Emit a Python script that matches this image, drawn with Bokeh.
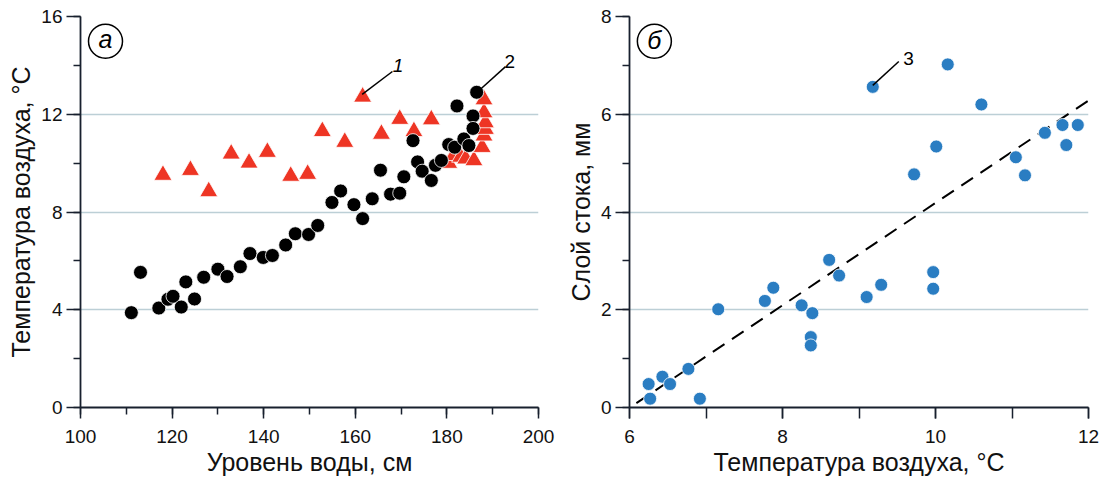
from bokeh.plotting import figure
from bokeh.layouts import row
from bokeh.models import SingleIntervalTicker, Range1d, Label
from bokeh.embed import file_html
from bokeh.resources import INLINE

# ---- data: panel a ----
lvl_black = [111.1, 113.1, 117.1, 119.1, 120.2, 122.0, 123.0, 124.9, 126.9, 130.0,
             132.0, 134.9, 137.0, 139.9, 141.9, 144.8, 146.9, 149.8, 151.8, 154.9,
             156.8, 159.7, 161.6, 163.7, 165.5, 167.7, 169.7, 170.6, 172.6, 173.6,
             174.6, 176.6, 177.5, 178.8, 180.4, 181.7, 182.2, 183.7, 184.8, 185.7,
             185.7, 186.5]
temp_black = [3.88, 5.53, 4.07, 4.43, 4.55, 4.11, 5.14, 4.44, 5.33, 5.66,
              5.36, 5.76, 6.30, 6.14, 6.22, 6.65, 7.11, 7.08, 7.45, 8.39,
              8.86, 8.30, 7.73, 8.54, 9.71, 8.73, 8.77, 9.44, 10.92, 10.05,
              9.67, 9.29, 9.91, 10.11, 10.76, 10.65, 12.34, 10.99, 10.72, 11.93,
              11.42, 12.90]
lvl_red = [118.0, 124.0, 128.0, 132.9, 136.8, 140.8, 145.9, 149.6, 152.8, 157.7,
           161.6, 165.7, 169.7, 172.8, 176.6, 180.4, 181.5, 183.0, 184.1, 185.9,
           187.7, 188.1, 188.4, 188.4, 188.1, 188.1]
temp_red = [9.51, 9.71, 8.84, 10.38, 10.01, 10.45, 9.47, 9.55, 11.30, 10.86,
            12.71, 11.19, 11.80, 11.30, 11.78, 10.00, 10.32, 10.25, 10.18, 10.11,
            10.65, 11.12, 11.39, 11.66, 12.07, 12.60]

# ---- data: panel б ----
temp_air = [9.18, 10.16, 10.60, 11.43, 11.66, 11.86, 11.71, 10.01, 11.05, 11.17,
            9.72, 6.25, 6.27, 6.43, 6.53, 6.77, 6.92, 7.16, 7.77, 7.88,
            8.25, 8.39, 8.37, 8.37, 8.61, 8.74, 9.10, 9.29, 9.97, 9.97]
runoff = [6.56, 7.02, 6.20, 5.62, 5.78, 5.78, 5.37, 5.34, 5.12, 4.75,
          4.77, 0.48, 0.18, 0.63, 0.48, 0.79, 0.18, 2.01, 2.18, 2.45,
          2.09, 1.93, 1.44, 1.27, 3.02, 2.70, 2.26, 2.51, 2.77, 2.43]
trend_x = [6.09, 12.0]
trend_y = [0.09, 6.28]

FONT = "Liberation Sans"
AXIS_C = "#18202e"
GRID_C = "#bccfd6"
RED = "#ee3524"
BLUE = "#2a7dc2"


def style(p, xint, yint, xlabel, ylabel, x_minor_out):
    p.outline_line_color = None
    p.xaxis.ticker = SingleIntervalTicker(interval=xint, num_minor_ticks=2)
    p.yaxis.ticker = SingleIntervalTicker(interval=yint, num_minor_ticks=2)
    p.ygrid.ticker = SingleIntervalTicker(interval=yint)
    p.xgrid.visible = False
    p.ygrid.grid_line_color = GRID_C
    p.ygrid.grid_line_width = 1.5
    for ax in (p.xaxis[0], p.yaxis[0]):
        ax.axis_line_color = AXIS_C
        ax.axis_line_width = 1.8
        ax.major_tick_line_color = AXIS_C
        ax.minor_tick_line_color = AXIS_C
        ax.major_tick_line_width = 1.5
        ax.minor_tick_line_width = 1.5
        ax.major_tick_in = 0
        ax.minor_tick_in = 0
        ax.major_label_text_font = FONT
        ax.major_label_text_font_size = "19px"
        ax.major_label_text_color = "#111111"
        ax.axis_label_text_font = FONT
        ax.axis_label_text_font_size = "25px"
        ax.axis_label_text_font_style = "normal"
        ax.axis_label_text_color = "#111111"
    p.xaxis.major_tick_out = 11
    p.xaxis.minor_tick_out = x_minor_out
    p.yaxis.major_tick_out = 14
    p.yaxis.minor_tick_out = 7
    p.xaxis.major_label_standoff = 11
    p.yaxis.major_label_standoff = 4
    p.xaxis.axis_label_standoff = 2
    p.yaxis.axis_label_standoff = 3
    p.xaxis.axis_label = xlabel
    p.yaxis.axis_label = ylabel


# ---- panel a ----
p1 = figure(width=563, height=478, output_backend="svg", toolbar_location=None,
            x_range=Range1d(100, 200), y_range=Range1d(0, 16), title=None,
            min_border_left=80, min_border_right=25, min_border_top=16, min_border_bottom=66)
style(p1, 20, 4, "Уровень воды, см", "Температура воздуха, °С", 7)

p1.scatter(lvl_red, temp_red, marker="triangle", size=18, fill_color=RED,
           line_color="white", line_width=0.8)
p1.scatter(lvl_black, temp_black, marker="circle", size=14, fill_color="black",
           line_color="white", line_width=0.8)

# annotations panel a
p1.scatter([105.46], [14.99], marker="circle", size=34, fill_color=None,
           line_color="black", line_width=1.5)
p1.add_layout(Label(x=105.46, y=14.99, text="а", text_font=FONT, text_font_style="italic",
                    text_font_size="25px", text_align="center", text_baseline="middle",
                    text_color="black", y_offset=2))
p1.line([161.5, 168.1], [12.81, 13.75], line_color="black", line_width=1.5)
p1.add_layout(Label(x=168.2, y=13.72, text="1", text_font=FONT, text_font_style="italic",
                    text_font_size="19px", text_align="left", text_baseline="bottom",
                    text_color="black"))
p1.line([186.6, 192.8], [12.9, 13.95], line_color="black", line_width=1.5)
p1.add_layout(Label(x=192.6, y=13.9, text="2", text_font=FONT,
                    text_font_size="19px", text_align="left", text_baseline="bottom",
                    text_color="black"))

# ---- panel б ----
p2 = figure(width=539, height=478, output_backend="svg", toolbar_location=None,
            x_range=Range1d(6, 12), y_range=Range1d(0, 8), title=None,
            min_border_left=63, min_border_right=14, min_border_top=16, min_border_bottom=66)
style(p2, 2, 2, "Температура воздуха, °С", "Слой стока, мм", 11)

p2.line(trend_x, trend_y, line_color="black", line_width=2, line_dash="14 9")
p2.scatter(temp_air, runoff, marker="circle", size=13, fill_color=BLUE,
           line_color="white", line_width=0.8)

p2.scatter([6.325], [7.495], marker="circle", size=34, fill_color=None,
           line_color="black", line_width=1.5)
p2.add_layout(Label(x=6.325, y=7.495, text="б", text_font=FONT, text_font_style="italic",
                    text_font_size="25px", text_align="center", text_baseline="middle",
                    text_color="black", y_offset=1))
p2.line([9.18, 9.52], [6.59, 7.08], line_color="black", line_width=1.5)
p2.add_layout(Label(x=9.58, y=7.0, text="3", text_font=FONT,
                    text_font_size="19px", text_align="left", text_baseline="bottom",
                    text_color="black"))

layout = row(p1, p2)
open("out.html", "w").write(file_html(layout, INLINE))
